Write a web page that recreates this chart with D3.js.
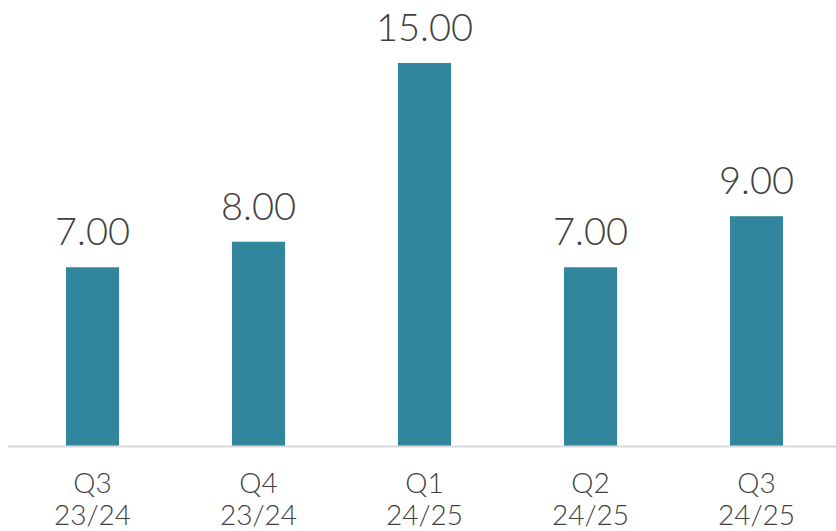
<!DOCTYPE html>
<html>
<head>
<meta charset="utf-8">
<script src="https://cdn.jsdelivr.net/npm/d3@7"></script>
<style>
  html, body { margin: 0; padding: 0; background: #fff; }
  svg { display: block; }
  text { font-family: "Lato", "Open Sans", sans-serif; font-weight: 300; fill: #404040; }
</style>
</head>
<body>
<svg id="chart" width="836" height="531"></svg>
<script>
// Quarterly values
const quarters = ["Q3", "Q4", "Q1", "Q2", "Q3"];
const years = ["23/24", "23/24", "24/25", "24/25", "24/25"];
const values = [7, 8, 15, 7, 9];

const W = 836, H = 531;
const baseY = 446, topY = 63;

const svg = d3.select("#chart");
const ids = values.map((_, i) => i);

const x = d3.scaleBand().domain(ids).range([9.5, 839.5]).paddingInner(0.68).paddingOuter(0.34);
const y = d3.scaleLinear().domain([0, 15]).range([baseY, topY]);

svg.append("g").selectAll("rect")
  .data(values)
  .join("rect")
  .attr("x", (d, i) => x(i))
  .attr("y", d => y(d))
  .attr("width", x.bandwidth())
  .attr("height", d => baseY - y(d))
  .attr("fill", "#31859C");

// Baseline
svg.append("line")
  .attr("x1", 8).attr("x2", W)
  .attr("y1", baseY + 0.5).attr("y2", baseY + 0.5)
  .attr("stroke", "#d9d9d9").attr("stroke-width", 2);

// Value labels
svg.append("g").selectAll("text")
  .data(values)
  .join("text")
  .attr("x", (d, i) => x(i) + x.bandwidth() / 2)
  .attr("y", d => y(d) - 22)
  .attr("text-anchor", "middle")
  .style("font-size", "38px")
  .text(d => d3.format(".2f")(d));

// Category labels (two lines)
const cat = svg.append("g").selectAll("text")
  .data(ids)
  .join("text")
  .attr("text-anchor", "middle")
  .style("font-size", "28px");
cat.append("tspan")
  .attr("x", i => x(i) + x.bandwidth() / 2)
  .attr("y", 493)
  .text(i => quarters[i]);
cat.append("tspan")
  .attr("x", i => x(i) + x.bandwidth() / 2)
  .attr("y", 525)
  .text(i => years[i]);
</script>
</body>
</html>
